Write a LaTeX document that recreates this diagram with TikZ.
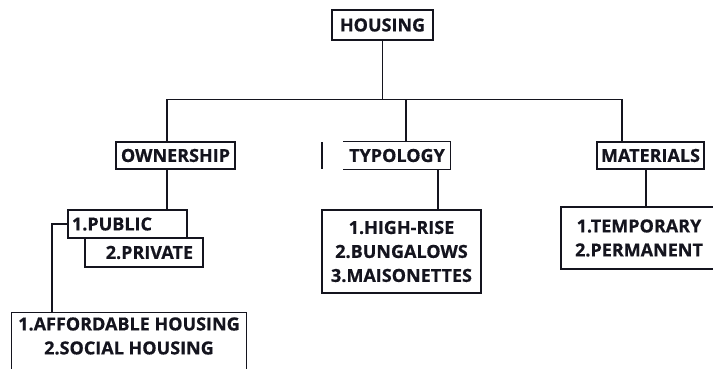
\documentclass[tikz,border=0pt]{standalone}
\usepackage{fontspec}
\setmainfont{Open Sans}[BoldFeatures={FakeBold=0.6}]
\usetikzlibrary{calc}
\definecolor{ink}{RGB}{20,20,30}
\begin{document}
\begin{tikzpicture}[x=1pt,y=-1pt,
  line/.style={draw=ink, line width=1.3pt},
  box/.style={line, inner sep=0pt, text=ink, align=center,
    font=\bfseries\fontsize{18}{24}\selectfont},
  bare/.style={box, draw=none}]
\useasboundingbox (0,0) rectangle (713,369);
\clip (0,0) rectangle (713,369);

% nodes
\node[box, minimum width=101pt, minimum height=30pt] (housing) at (382.5,25) {HOUSING};
\node[box, minimum width=119pt, minimum height=27pt] (own) at (175.5,155.5) {OWNERSHIP};
\node[bare, minimum width=106pt, minimum height=27pt] (typ) at (397,155.5) {TYPOLOGY};
\node[box, minimum width=107pt, minimum height=27pt] (mat) at (650.5,155.5) {MATERIALS};

\node[box, minimum width=119pt, minimum height=28pt, text width=111pt, align=left] (public) at (127.5,224) {1.PUBLIC};
\node[box, minimum width=118pt, minimum height=29pt, text width=98pt, align=right] (private) at (144,252.5) {2.PRIVATE};

\node[box, minimum width=159pt, minimum height=83pt] (typlist) at (401.5,251.5) {1.HIGH-RISE\\2.BUNGALOWS\\3.MAISONETTES};
\node[box, minimum width=156pt, minimum height=62pt] (matlist) at (639,238) {1.TEMPORARY\\2.PERMANENT};
\node[bare, minimum width=234pt, minimum height=46pt] (afford) at (129,336) {1.AFFORDABLE HOUSING\\2.SOCIAL HOUSING};

% partial outlines
\draw[line] (typ.north west) -- (typ.north east) -- (typ.south east) -- (typ.south west);
\coordinate (strayA) at (322,142);
\coordinate (strayB) at (322,169);
\draw[line] (strayA) -- (strayB);
\draw[line] ($(afford.south west)+(0,30)$) -- (afford.north west) -- (afford.north east) -- ($(afford.south east)+(0,30)$);

% connector points
\coordinate (busL) at (167,99.5);
\coordinate (busR) at (622,99.5);
\coordinate (ownin) at (167,142);
\coordinate (ownout) at (167,169);
\coordinate (pubin) at (167,210);
\coordinate (typin) at (406,142);
\coordinate (typout) at (438,169);
\coordinate (tlin) at (438,210);
\coordinate (matin) at (622,142);
\coordinate (matout) at (646,169);
\coordinate (mlin) at (646,207);
\coordinate (affin) at (52,313);

% connectors
\draw[line] (housing.south) -- (housing.south |- busL);
\draw[line] (ownin) -- (busL) -- (busR) -- (matin);
\draw[line] (typin) -- (typin |- busL);
\draw[line] (ownout) -- (pubin);
\draw[line] (typout) -- (tlin);
\draw[line] (matout) -- (mlin);
\draw[line] (public.west) -- (public.west -| affin) -- (affin);
\end{tikzpicture}
\end{document}
